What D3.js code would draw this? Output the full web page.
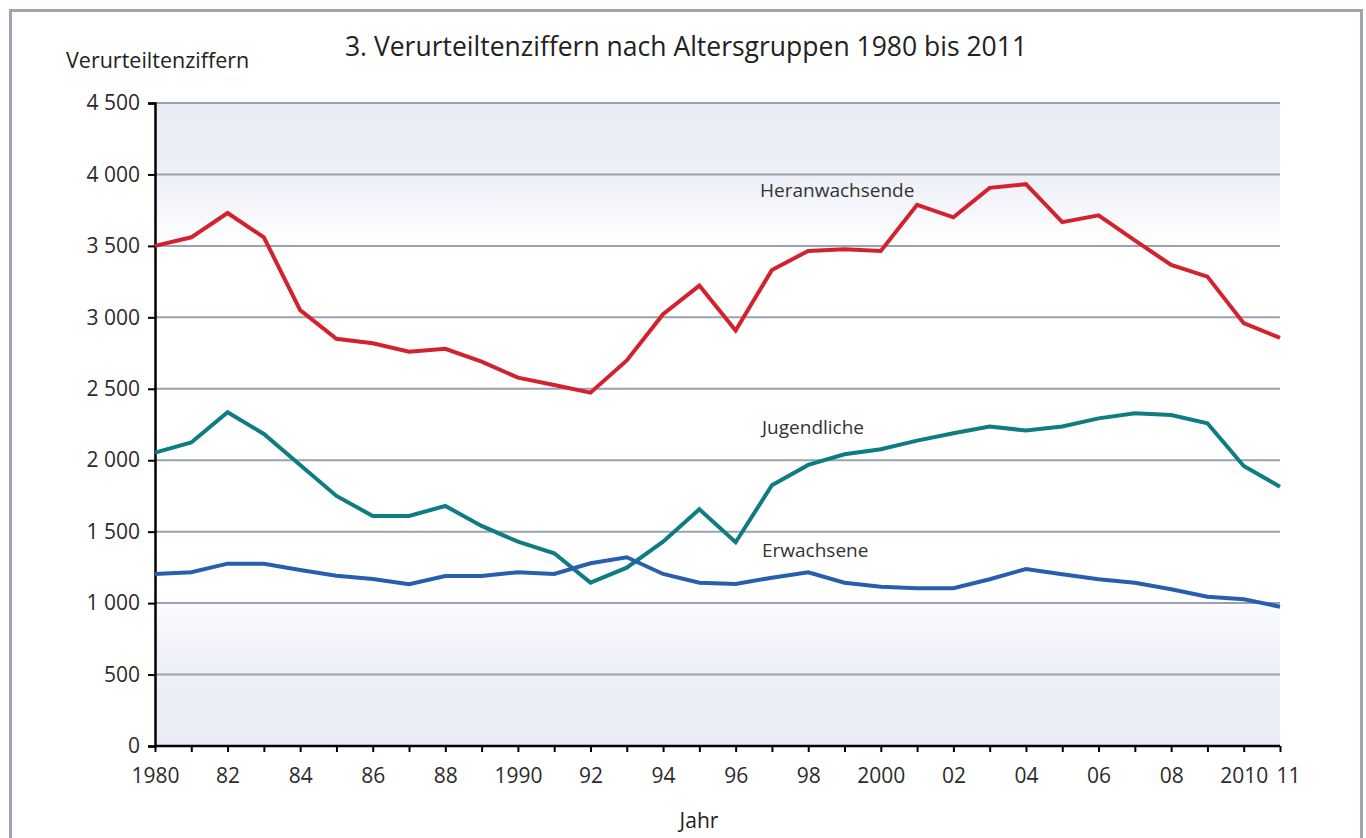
<!DOCTYPE html>
<html>
<head>
<meta charset="utf-8">
<script src="https://cdn.jsdelivr.net/npm/d3@7"></script>
<style>
  body { margin: 0; background: #fff; }
  svg { display: block; font-family: "Open Sans", "Noto Sans", sans-serif; }
</style>
</head>
<body>
<div id="chart"></div>
<script>
// Verurteiltenziffern je Altersgruppe, 1980 bis 2011
const years = d3.range(1980, 2012);

const heranwachsende = [3500, 3560, 3730, 3560, 3050, 2850, 2818, 2760, 2780, 2690,
  2578, 2527, 2473, 2698, 3022, 3222, 2907, 3332, 3465, 3477,
  3465, 3787, 3700, 3906, 3932, 3666, 3714, 3538, 3367, 3285,
  2959, 2856];

const jugendliche = [2053, 2124, 2336, 2184, 1967, 1750, 1610, 1610, 1680, 1540,
  1430, 1349, 1143, 1248, 1430, 1657, 1426, 1825, 1967, 2042,
  2077, 2137, 2189, 2236, 2208, 2236, 2293, 2329, 2317, 2259,
  1960, 1815];

const erwachsene = [1204, 1216, 1276, 1276, 1232, 1192, 1169, 1132, 1190, 1190,
  1216, 1204, 1279, 1321, 1204, 1143, 1134, 1178, 1216, 1143,
  1115, 1104, 1104, 1167, 1239, 1202, 1167, 1143, 1097, 1045,
  1027, 975];

const yTicks = [0, 500, 1000, 1500, 2000, 2500, 3000, 3500, 4000, 4500];
const xLabels = {1980: "1980", 1982: "82", 1984: "84", 1986: "86", 1988: "88",
  1990: "1990", 1992: "92", 1994: "94", 1996: "96", 1998: "98",
  2000: "2000", 2002: "02", 2004: "04", 2006: "06", 2008: "08",
  2010: "2010", 2011: "11"};

const series = [
  {name: "Heranwachsende", values: heranwachsende, color: "#d3222e", lx: 760, ly: 197},
  {name: "Jugendliche", values: jugendliche, color: "#0e7d83", lx: 762, ly: 434},
  {name: "Erwachsene", values: erwachsene, color: "#275fae", lx: 762, ly: 557}
];

//==============================================================================

const width = 1366, height = 838;
const margin = {left: 155, right: 86, top: 103, bottom: 92};

const svg = d3.select("#chart").append("svg")
    .attr("width", width)
    .attr("height", height);

const x = d3.scaleLinear()
    .domain([1980, 2011])
    .range([margin.left, width - margin.right]);

const y = d3.scaleLinear()
    .domain([0, 4500])
    .range([height - margin.bottom, margin.top]);

// Rahmen
svg.append("rect")
    .attr("x", 10.5).attr("y", 10.5)
    .attr("width", 1351).attr("height", 860)
    .attr("fill", "none")
    .attr("stroke", "#9fa3b3")
    .attr("stroke-width", 3);

// Hintergrund-Verlauf
const grad = svg.append("defs").append("linearGradient")
    .attr("id", "bg")
    .attr("x1", 0).attr("y1", 0).attr("x2", 0).attr("y2", 1);
[[0, "#e8ebf5"], [0.12, "#eef0f8"], [0.22, "#ffffff"],
 [0.76, "#ffffff"], [0.86, "#eff1f8"], [1, "#e8ebf5"]].forEach(([o, c]) =>
  grad.append("stop").attr("offset", o).attr("stop-color", c));

svg.append("rect")
    .attr("x", x(1980)).attr("y", y(4500))
    .attr("width", x(2011) - x(1980))
    .attr("height", y(0) - y(4500))
    .attr("fill", "url(#bg)");

// Gitterlinien
svg.append("g")
    .attr("stroke", "#9aa1b1")
    .attr("stroke-width", 2)
  .selectAll("line")
  .data(yTicks.filter(d => d > 0))
  .join("line")
    .attr("x1", x(1980)).attr("x2", x(2011))
    .attr("y1", d => y(d)).attr("y2", d => y(d));

// Achsen
const yAxis = svg.append("g")
    .attr("transform", `translate(${x(1980)},0)`)
    .call(d3.axisLeft(y).tickValues(yTicks).tickSize(7).tickPadding(8)
      .tickFormat(d => d3.format(",")(d).replace(",", " ")));

const xAxis = svg.append("g")
    .attr("transform", `translate(0,${y(0)})`)
    .call(d3.axisBottom(x).tickValues(years).tickSize(6).tickPadding(16)
      .tickFormat(d => xLabels[d] || ""));

[yAxis, xAxis].forEach(a => {
  a.select(".domain").attr("stroke", "#000").attr("stroke-width", 2.5);
  a.selectAll(".tick line").attr("stroke", "#000").attr("stroke-width", 2);
  a.selectAll("text").attr("fill", "#2b2b2b").attr("font-size", 21)
    .attr("font-family", "'Open Sans', sans-serif");
});
xAxis.select(".domain").attr("d", `M${x(1980)},0H${x(2011)}`);
xAxis.selectAll(".tick").filter(d => d === 2011).select("text").attr("dx", 8);

// Linien
const line = d3.line()
    .x((d, i) => x(years[i]))
    .y(d => y(d));

svg.append("g")
  .selectAll("path")
  .data(series)
  .join("path")
    .attr("d", d => line(d.values))
    .attr("fill", "none")
    .attr("stroke", d => d.color)
    .attr("stroke-width", 4)
    .attr("stroke-linejoin", "miter");

svg.append("g")
  .selectAll("text")
  .data(series)
  .join("text")
    .attr("x", d => d.lx)
    .attr("y", d => d.ly)
    .attr("fill", "#333")
    .attr("font-size", 19)
    .text(d => d.name);

// Beschriftungen
svg.append("text")
    .attr("x", 686).attr("y", 56)
    .attr("text-anchor", "middle")
    .attr("font-size", 26.5)
    .attr("fill", "#222")
    .text("3. Verurteiltenziffern nach Altersgruppen 1980 bis 2011");

svg.append("text")
    .attr("x", 66).attr("y", 68)
    .attr("font-size", 21.5)
    .attr("fill", "#222")
    .text("Verurteiltenziffern");

svg.append("text")
    .attr("x", 699).attr("y", 828)
    .attr("text-anchor", "middle")
    .attr("font-size", 21)
    .attr("fill", "#222")
    .text("Jahr");
</script>
</body>
</html>
